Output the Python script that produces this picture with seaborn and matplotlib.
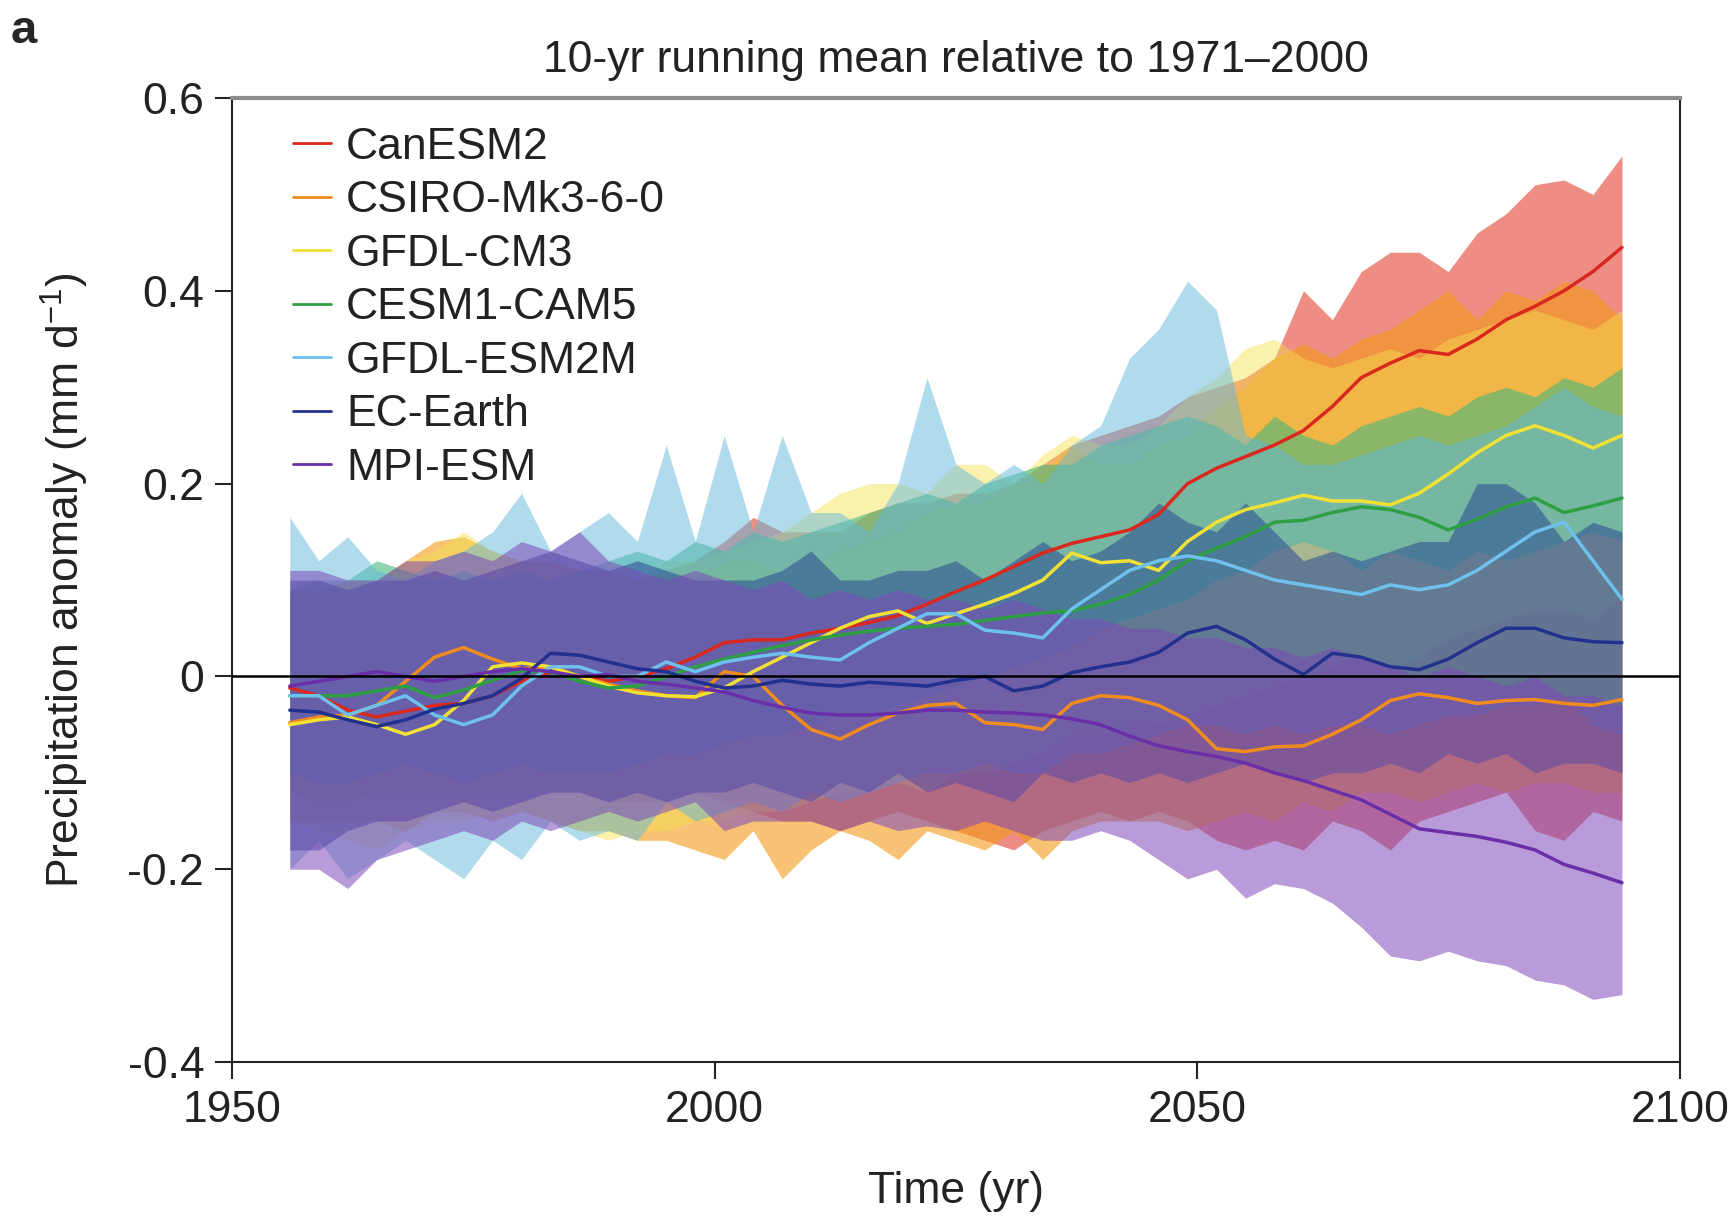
import numpy as np
import pandas as pd
import matplotlib
matplotlib.use("Agg")
import matplotlib.pyplot as plt
import seaborn as sns
from matplotlib.lines import Line2D

# ---------------- data (10-yr running means, mm/day, relative to 1971-2000) ----------------
YEARS = list(range(1956, 2096, 3))

MODELS = ["CanESM2", "CSIRO-Mk3-6-0", "GFDL-CM3", "CESM1-CAM5",
          "GFDL-ESM2M", "EC-Earth", "MPI-ESM"]

CAN_MEAN = [-.012, -.02, -.035, -.042, -.036, -.03, -.028, -.02, -.005, .005,
            .0, -.005, .0, .008, .02, .035, .038, .038, .045, .05,
            .056, .063, .075, .088, .1, .114, .128, .138, .145, .152,
            .168, .2, .216, .228, .24, .255, .28, .31, .325, .338,
            .334, .35, .37, .384, .40, .42, .445]
CAN_HI = [.08, .08, .07, .08, .1, .1, .1, .1, .1, .1,
          .1, .1, .1, .11, .12, .14, .165, .15, .15, .15,
          .17, .18, .18, .19, .19, .2, .22, .24, .25, .26,
          .27, .29, .30, .31, .33, .40, .37, .42, .44, .44,
          .42, .46, .48, .51, .515, .50, .54]
CAN_LO = [-.12, -.13, -.13, -.12, -.12, -.12, -.12, -.12, -.12, -.12,
          -.12, -.13, -.13, -.13, -.12, -.13, -.14, -.15, -.15, -.16,
          -.15, -.14, -.15, -.16, -.17, -.18, -.16, -.15, -.14, -.15,
          -.14, -.15, -.17, -.18, -.17, -.18, -.15, -.16, -.18, -.15,
          -.14, -.13, -.12, -.16, -.17, -.14, -.15]

CS_MEAN = [-.048, -.042, -.04, -.03, -.005, .02, .03, .018, .008, .01,
           .0, -.008, -.015, -.02, -.022, .005, .0, -.03, -.055, -.065,
           -.05, -.038, -.03, -.028, -.048, -.05, -.055, -.028, -.02, -.022,
           -.03, -.045, -.075, -.078, -.073, -.072, -.06, -.045, -.025, -.018,
           -.022, -.028, -.025, -.024, -.028, -.03, -.024]
CS_HI = [.09, .09, .1, .1, .12, .14, .145, .13, .12, .12,
         .11, .11, .1, .1, .1, .12, .12, .11, .12, .13,
         .14, .15, .17, .18, .18, .2, .21, .24, .22, .22,
         .24, .25, .28, .30, .33, .345, .33, .35, .36, .38,
         .40, .37, .40, .39, .41, .40, .37]
CS_LO = [-.15, -.15, -.15, -.15, -.16, -.14, -.14, -.15, -.14, -.15,
         -.16, -.16, -.17, -.17, -.18, -.19, -.16, -.21, -.18, -.16,
         -.17, -.19, -.16, -.17, -.18, -.16, -.19, -.16, -.15, -.15,
         -.15, -.16, -.15, -.14, -.15, -.13, -.14, -.12, -.12, -.13,
         -.12, -.11, -.12, -.11, -.11, -.12, -.12]

GF3_MEAN = [-.05, -.045, -.042, -.05, -.06, -.05, -.025, .01, .014, .01,
            .0, -.01, -.017, -.02, -.021, -.012, .005, .02, .035, .05,
            .062, .068, .055, .065, .075, .086, .1, .128, .118, .12,
            .11, .14, .16, .173, .18, .188, .182, .182, .178, .19,
            .21, .232, .25, .26, .25, .237, .25]
GF3_HI = [.08, .09, .09, .1, .12, .13, .15, .13, .12, .11,
          .11, .1, .1, .12, .12, .13, .14, .15, .17, .19,
          .2, .2, .19, .22, .22, .2, .23, .25, .24, .24,
          .26, .29, .31, .34, .35, .33, .32, .33, .34, .33,
          .35, .36, .37, .38, .37, .36, .38]
GF3_LO = [-.15, -.16, -.17, -.18, -.16, -.15, -.15, -.14, -.14, -.15,
          -.16, -.17, -.16, -.16, -.15, -.15, -.14, -.14, -.13, -.12,
          -.12, -.11, -.12, -.1, -.1, -.09, -.08, -.06, -.06, -.05,
          -.05, -.04, -.03, -.02, -.01, .0, .01, .02, .01, .02,
          .04, .05, .06, .07, .07, .06, .08]

CE_MEAN = [-.02, -.02, -.02, -.015, -.01, -.022, -.014, -.004, .006, .005,
           -.005, -.012, -.01, .0, .01, .018, .025, .032, .038, .043,
           .047, .05, .052, .054, .058, .062, .066, .068, .075, .085,
           .1, .12, .133, .145, .16, .162, .17, .176, .173, .165,
           .152, .163, .176, .185, .17, .177, .185]
CE_HI = [.09, .1, .1, .12, .11, .1, .11, .1, .11, .1,
         .11, .12, .13, .12, .14, .13, .15, .14, .15, .16,
         .17, .18, .19, .18, .2, .21, .22, .22, .24, .25,
         .26, .27, .26, .24, .27, .25, .24, .26, .27, .28,
         .27, .29, .3, .29, .31, .3, .32]
CE_LO = [-.1, -.11, -.11, -.1, -.09, -.1, -.11, -.1, -.09, -.1,
         -.1, -.1, -.09, -.08, -.08, -.07, -.06, -.06, -.05, -.04,
         -.04, -.03, -.02, -.01, .0, .01, .02, .03, .05, .06,
         .07, .08, .1, .11, .13, .14, .13, .11, .13, .12,
         .11, .13, .12, .13, .14, .15, .14]

GE_MEAN = [-.02, -.02, -.04, -.03, -.02, -.04, -.05, -.04, -.01, .01,
           .01, .0, .0, .015, .005, .015, .02, .024, .02, .017,
           .035, .05, .065, .065, .048, .045, .04, .07, .09, .11,
           .12, .125, .12, .11, .1, .095, .09, .085, .095, .09,
           .095, .11, .13, .15, .16, .12, .08]
GE_HI = [.165, .12, .145, .11, .1, .12, .13, .15, .19, .13,
         .15, .17, .14, .24, .14, .25, .15, .25, .17, .17,
         .15, .2, .31, .22, .2, .22, .2, .24, .26, .33,
         .36, .41, .38, .25, .24, .22, .22, .23, .24, .25,
         .24, .25, .26, .28, .30, .28, .27]
GE_LO = [-.2, -.17, -.21, -.19, -.17, -.19, -.21, -.17, -.19, -.15,
         -.17, -.16, -.17, -.13, -.15, -.14, -.13, -.14, -.12, -.13,
         -.12, -.11, -.1, -.1, -.09, -.1, -.1, -.08, -.08, -.07,
         -.06, -.05, -.05, -.06, -.05, -.06, -.05, -.05, -.06, -.05,
         -.04, -.04, -.03, -.03, -.02, -.05, -.06]

EC_MEAN = [-.035, -.037, -.045, -.052, -.045, -.034, -.028, -.02, -.002, .024,
           .022, .015, .008, .005, -.005, -.012, -.01, -.004, -.008, -.01,
           -.006, -.008, -.01, -.004, .0, -.015, -.01, .004, .01, .015,
           .025, .045, .052, .038, .018, .002, .024, .02, .01, .007,
           .018, .035, .05, .05, .04, .036, .035]
EC_HI = [.1, .1, .09, .1, .1, .11, .1, .11, .12, .13,
         .12, .11, .12, .11, .1, .1, .1, .11, .13, .1,
         .1, .11, .11, .12, .1, .12, .14, .12, .13, .15,
         .18, .16, .15, .18, .15, .12, .13, .12, .13, .14,
         .14, .2, .2, .18, .14, .16, .15]
EC_LO = [-.18, -.18, -.16, -.15, -.15, -.14, -.13, -.14, -.13, -.12,
         -.12, -.13, -.12, -.13, -.12, -.12, -.11, -.12, -.13, -.11,
         -.12, -.1, -.12, -.11, -.12, -.13, -.1, -.11, -.1, -.11,
         -.1, -.11, -.1, -.09, -.1, -.11, -.1, -.1, -.09, -.1,
         -.08, -.09, -.08, -.1, -.09, -.09, -.1]

MPI_MEAN = [-.01, -.005, .0, .005, .0, -.005, .0, .005, .008, .005,
            .0, .002, -.005, -.008, -.012, -.016, -.025, -.032, -.038, -.04,
            -.04, -.038, -.035, -.035, -.037, -.038, -.04, -.044, -.05, -.062,
            -.072, -.078, -.083, -.09, -.1, -.108, -.118, -.128, -.143, -.158,
            -.162, -.166, -.172, -.18, -.195, -.204, -.214]
MPI_HI = [.11, .11, .1, .1, .12, .12, .13, .12, .14, .13,
          .15, .12, .11, .1, .11, .1, .09, .1, .08, .09,
          .08, .09, .08, .08, .07, .08, .07, .06, .06, .05,
          .05, .04, .04, .03, .03, .02, .03, .02, .01, .0,
          .01, .0, -.01, .0, -.02, -.02, -.03]
MPI_LO = [-.2, -.2, -.22, -.19, -.18, -.17, -.16, -.17, -.15, -.16,
          -.15, -.14, -.15, -.14, -.13, -.16, -.15, -.15, -.15, -.16,
          -.15, -.16, -.155, -.16, -.15, -.16, -.17, -.17, -.16, -.17,
          -.19, -.21, -.2, -.23, -.215, -.22, -.235, -.26, -.29, -.295,
          -.285, -.295, -.3, -.315, -.32, -.335, -.33]

MEANS = [CAN_MEAN, CS_MEAN, GF3_MEAN, CE_MEAN, GE_MEAN, EC_MEAN, MPI_MEAN]
HIS = [CAN_HI, CS_HI, GF3_HI, CE_HI, GE_HI, EC_HI, MPI_HI]
LOS = [CAN_LO, CS_LO, GF3_LO, CE_LO, GE_LO, EC_LO, MPI_LO]

LINE_COLORS = ["#d9281e", "#f08c1e", "#f2e135", "#2ea043", "#6ec1ee", "#22318e", "#6a2ea8"]
FILL_COLORS = ["#e0301e", "#f29a18", "#f4e04a", "#45b67e", "#61b8dc", "#2b4a95", "#7e49b8"]
FILL_ALPHAS = [0.55, 0.6, 0.45, 0.6, 0.5, 0.55, 0.55]

X_TICKS = [1950, 2000, 2050, 2100]
Y_TICKS = [-0.4, -0.2, 0.0, 0.2, 0.4, 0.6]
Y_TICK_LABELS = ["-0.4", "-0.2", "0", "0.2", "0.4", "0.6"]

# ---------------- style ----------------
sns.set_style("ticks")
plt.rcParams["font.family"] = ["Liberation Sans", "DejaVu Sans"]
plt.rcParams["mathtext.default"] = "regular"

fig = plt.figure(figsize=(17.32, 12.16), dpi=100)
ax = fig.add_axes([0.1339, 0.1266, 0.836, 0.7928])

# envelopes
for lo, hi, fc, a in zip(LOS, HIS, FILL_COLORS, FILL_ALPHAS):
    ax.fill_between(YEARS, lo, hi, color=fc, alpha=a, linewidth=0, zorder=1)

# ensemble mean lines
df = pd.concat([pd.DataFrame({"year": YEARS, "value": m, "model": name})
                for name, m in zip(MODELS, MEANS)], ignore_index=True)
sns.lineplot(data=df, x="year", y="value", hue="model", hue_order=MODELS,
             palette=LINE_COLORS, linewidth=2.5, legend=False, ax=ax, zorder=3)

ax.axhline(0, color="black", lw=1.8, zorder=4)

ax.set_xlim(1950, 2100)
ax.set_ylim(-0.4, 0.6)
ax.set_xticks(X_TICKS)
ax.set_xticklabels([str(t) for t in X_TICKS])
ax.set_yticks(Y_TICKS)
ax.set_yticklabels(Y_TICK_LABELS)
ax.tick_params(axis="both", labelsize=32, length=12, width=1.5, direction="out",
               pad=8, colors="#222222", labelcolor="#222222")

for side in ["left", "bottom", "right"]:
    ax.spines[side].set_color("#222222")
    ax.spines[side].set_linewidth(1.5)
ax.spines["top"].set_color("#8c8c8c")
ax.spines["top"].set_linewidth(3)

ax.set_title("10-yr running mean relative to 1971\u20132000", fontsize=32, pad=19, color="#222222")
ax.set_xlabel("Time (yr)", fontsize=32, labelpad=29, color="#222222")
ax.set_ylabel("Precipitation anomaly (mm d$^{-1}$)", fontsize=32, labelpad=26, color="#222222")

handles = [Line2D([0], [0], color=c, lw=2) for c in LINE_COLORS]
ax.legend(handles, MODELS, loc="upper left", bbox_to_anchor=(0.042, 0.970),
          frameon=False, fontsize=32, handlelength=0.85, handletextpad=0.35,
          labelspacing=0.28, borderaxespad=0, borderpad=0, labelcolor="#222222")

fig.text(0.006, 0.993, "a", fontsize=34, fontweight="bold", va="top", ha="left")

fig.savefig("out.png", dpi=100)
